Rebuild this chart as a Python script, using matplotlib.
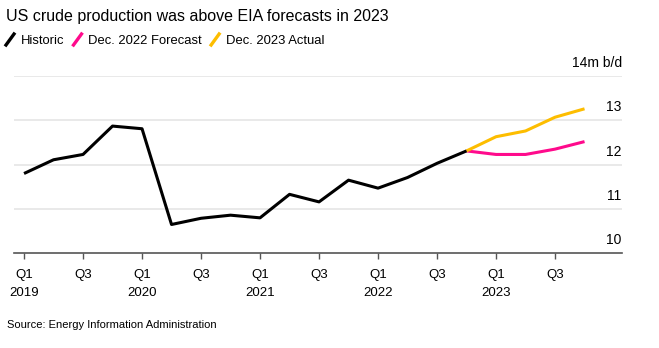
import matplotlib
matplotlib.use("Agg")
import matplotlib.pyplot as plt
from matplotlib.lines import Line2D
import matplotlib.transforms as mtransforms

plt.rcParams['font.family'] = ['Liberation Sans', 'DejaVu Sans']

# quarterly US crude production, million barrels per day
quarters = list(range(20))  # Q1 2019 .. Q4 2023
historic = [11.80, 12.11, 12.23, 12.87, 12.81, 10.65, 10.79, 10.86,
            10.80, 11.33, 11.16, 11.65, 11.47, 11.71, 12.03, 12.31]
forecast = [12.31, 12.23, 12.23, 12.35, 12.52]   # Dec. 2022 forecast, Q4 2022 .. Q4 2023
actual = [12.31, 12.63, 12.76, 13.07, 13.26]     # Dec. 2023 actual, Q4 2022 .. Q4 2023

tick_pos = [0, 2, 4, 6, 8, 10, 12, 14, 16, 18]
tick_labels = ["Q1\n2019", "Q3", "Q1\n2020", "Q3", "Q1\n2021", "Q3",
               "Q1\n2022", "Q3", "Q1\n2023", "Q3"]
y_levels = [10, 11, 12, 13, 14]
y_labels = ["10", "11", "12", "13", "14m b/d"]

BLACK = "#000000"
PINK = "#ff0a8c"
YELLOW = "#fdbd00"

W, H = 659, 348
fig = plt.figure(figsize=(W / 100, H / 100), dpi=100)
ax = fig.add_axes([14 / W, 1 - 253.3 / H, (621.7 - 14) / W, (253.3 - 76) / H])

for lvl in y_levels[1:]:
    ax.axhline(lvl, color="#e3e3e3", lw=1.1, zorder=0)

ax.plot(quarters[:16], historic, color=BLACK, lw=2.2, solid_capstyle="butt", zorder=3)
ax.plot(quarters[15:], forecast, color=PINK, lw=2.2, solid_capstyle="butt", zorder=2)
ax.plot(quarters[15:], actual, color=YELLOW, lw=2.2, solid_capstyle="butt", zorder=2)

ax.set_xlim(-0.34, 20.26)
ax.set_ylim(10, 14)

for s in ["top", "right", "left"]:
    ax.spines[s].set_visible(False)
ax.spines["bottom"].set_color("#555555")
ax.spines["bottom"].set_linewidth(1.2)

ax.set_xticks(tick_pos)
ax.set_xticklabels(tick_labels, fontsize=9.5, va="top", linespacing=1.6)
ax.tick_params(axis="x", length=4, width=1, color="#555555", pad=7.5)
ax.set_yticks([])

# y labels sit on top of the gridlines, right-aligned
trans = mtransforms.blended_transform_factory(ax.transAxes, ax.transData)
offset = mtransforms.ScaledTranslation(0, 6.5 / 72, fig.dpi_scale_trans)
for lvl, lab in zip(y_levels, y_labels):
    ax.text(1.0, lvl, lab, transform=trans + offset, ha="right", va="baseline",
            fontsize=10, color="#000000")

fig.text(6 / W, 1 - 21 / H, "US crude production was above EIA forecasts in 2023",
         fontsize=11.5, color="#000000", va="baseline")

# legend with slanted swatches, each item placed after the previous text
renderer = fig.canvas.get_renderer()
legend_names = ["Historic", "Dec. 2022 Forecast", "Dec. 2023 Actual"]
legend_colors = [BLACK, PINK, YELLOW]
x = 6
for name, col in zip(legend_names, legend_colors):
    fig.add_artist(Line2D([x / W, (x + 8) / W], [1 - 45 / H, 1 - 34 / H],
                          transform=fig.transFigure, color=col, lw=2.4))
    t = fig.text((x + 15) / W, 1 - 44 / H, name, fontsize=9.4, va="baseline")
    x = t.get_window_extent(renderer).x1 + 9

fig.text(7 / W, 1 - 328 / H, "Source: Energy Information Administration",
         fontsize=8, color="#000000", va="baseline")

fig.savefig("out.png", dpi=100)
